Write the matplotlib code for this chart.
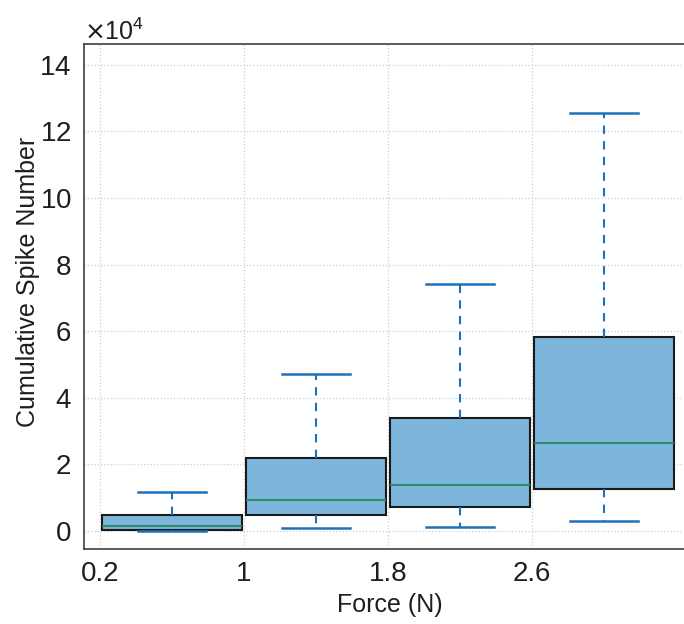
import matplotlib
matplotlib.use("Agg")
import matplotlib.pyplot as plt
from matplotlib.ticker import ScalarFormatter

# Data (cumulative spike number)
positions = [0.6, 1.4, 2.2, 3.0]
whisker_low = [0, 800, 1100, 2900]
q1 = [400, 4800, 7100, 12600]
median = [1500, 9200, 13900, 26300]
q3 = [4900, 21800, 33900, 58300]
whisker_high = [11800, 47100, 74200, 125500]
xticks = [0.2, 1, 1.8, 2.6]
xticklabels = ["0.2", "1", "1.8", "2.6"]
yticks = [0, 20000, 40000, 60000, 80000, 100000, 120000, 140000]

plt.rcParams['font.family'] = ['Liberation Sans', 'DejaVu Sans']

fig = plt.figure(figsize=(6.84, 6.24), dpi=100)
ax = fig.add_axes([0.1228, 0.1202, 0.8947, 0.8093])

stats = []
for i in range(len(positions)):
    stats.append(dict(med=median[i], q1=q1[i], q3=q3[i],
                      whislo=whisker_low[i], whishi=whisker_high[i], fliers=[]))

blue = '#1a72bb'
ax.bxp(stats, positions=positions, widths=0.78, patch_artist=True,
       showfliers=False, manage_ticks=False,
       boxprops=dict(facecolor='#7eb5dc', edgecolor='#1a1a1a', linewidth=1.5),
       medianprops=dict(color='#2e8b6a', linewidth=1.5),
       whiskerprops=dict(color=blue, linewidth=1.5, linestyle=(0, (4, 3.5))),
       capprops=dict(color=blue, linewidth=1.8),
       capwidths=0.38, zorder=3)

ax.set_xlim(0.111, 3.511)
ax.set_ylim(-5400, 146200)
ax.set_xticks(xticks)
ax.set_xticklabels(xticklabels)
ax.set_yticks(yticks)

fmt = ScalarFormatter(useMathText=True)
fmt.set_powerlimits((4, 4))
ax.yaxis.set_major_formatter(fmt)
ax.yaxis.get_offset_text().set_fontsize(18)
ax.yaxis.get_offset_text().set_color('#1f1f1f')

ax.grid(True, color='#cfcfcf', linestyle=':', linewidth=0.9, zorder=0)
ax.set_axisbelow(True)

ax.tick_params(axis='both', length=0, labelsize=20, colors='#1f1f1f', pad=9)
for s in ['left', 'bottom', 'top']:
    ax.spines[s].set_color('#404040')
    ax.spines[s].set_linewidth(1.2)
ax.spines['right'].set_visible(False)

ax.set_xlabel('Force (N)', fontsize=18, color='#1f1f1f')
ax.set_ylabel('Cumulative Spike Number', fontsize=18, color='#1f1f1f')
ax.yaxis.set_label_coords(-0.072, 0.528)
ax.xaxis.set_label_coords(0.5, -0.088)

fig.savefig('out.png', dpi=100)
